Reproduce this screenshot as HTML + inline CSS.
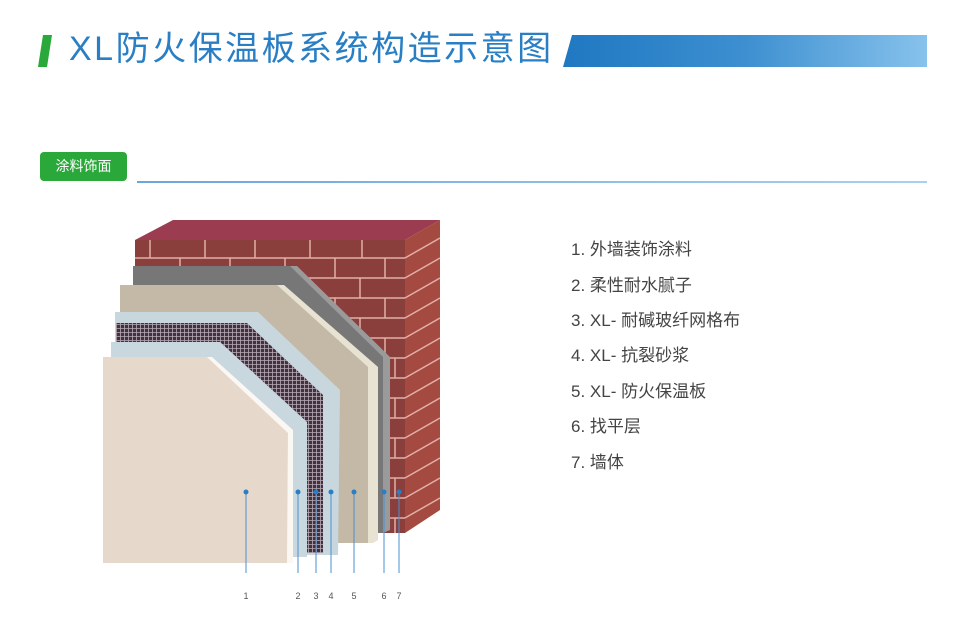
<!DOCTYPE html>
<html><head><meta charset="utf-8"><style>
body{margin:0;width:974px;height:618px;background:#fff;overflow:hidden;position:relative;font-family:"Liberation Sans","Noto Sans CJK SC",sans-serif}
.t{position:absolute;left:69px;top:29px;font-size:34px;color:#2a7fc4;letter-spacing:2.5px;line-height:40px;white-space:nowrap}
.tag{position:absolute;left:40px;top:152px;width:87px;height:29px;background:#2aa83a;border-radius:4px;color:#fff;font-size:14px;line-height:29px;text-align:center}
.ln{position:absolute;left:137px;top:181px;width:790px;height:2px;background:linear-gradient(90deg,#6aa6dc,#a9d0f0)}
.li{position:absolute;left:571px;font-size:17px;color:#444;white-space:nowrap}
</style></head><body>
<svg width="974" height="618" style="position:absolute;left:0;top:0">
<defs>
<linearGradient id="g" x1="0" x2="1"><stop offset="0" stop-color="#1f78c1"/><stop offset="0.5" stop-color="#3d8fd0"/><stop offset="1" stop-color="#87c2ec"/></linearGradient>
<pattern id="m" width="4" height="4" patternUnits="userSpaceOnUse"><rect width="4" height="4" fill="#3f3340"/><path d="M0 0.5H4M0.5 0V4" stroke="#b9aab6" stroke-width="0.8"/></pattern>
</defs>
<polygon points="43,35 52,35 47,67 38,67" fill="#2aa83a"/>
<polygon points="572,35 927,35 927,67 563,67" fill="url(#g)"/>
<polygon points="135,240 173,220 440,220 405,240" fill="#9c3c50"/>
<polygon points="405,240 440,220 440,510 405,533" fill="#a54a40"/>
<rect x="135" y="240" width="270" height="293" fill="#8a3f3c"/>
<g stroke="#e0b0a8" stroke-width="1.5" fill="none">
<path d="M135 258H405M135 278H405M135 298H405M135 318H405M135 338H405M135 358H405M135 378H405M135 398H405M135 418H405M135 438H405M135 458H405M135 478H405M135 498H405M135 518H405"/>
<path d="M405 258L440 238M405 278L440 258M405 298L440 278M405 318L440 298M405 338L440 318M405 358L440 338M405 378L440 358M405 398L440 378M405 418L440 398M405 438L440 418M405 458L440 438M405 478L440 458M405 498L440 478M405 518L440 498"/>
<path d="M150 240V258M205 240V258M255 240V258M310 240V258M362 240V258M180 258V278M230 258V278M285 258V278M335 258V278M385 258V278M310 278V298M360 278V298M335 298V318M385 298V318M360 318V338M385 338V358M395 358V378M395 398V418M395 438V458M395 478V498M395 518V533"/>
</g>
<polygon points="133,266 297,266 390,357 390,530 383,533 133,533" fill="#9a9a9a"/>
<polygon points="133,266 290,266 383,357 383,533 133,533" fill="#777"/>
<polygon points="120,285 284,285 378,367 378,540 373,543 120,543" fill="#e8e2d2"/>
<polygon points="120,285 277,285 368,367 368,543 120,543" fill="#c4b8a6"/>
<polygon points="115,312 258,312 340,390 338,555 115,555" fill="#c8d6de"/>
<polygon points="116,323 247,323 323,395 323,553 116,553" fill="url(#m)"/>
<polygon points="111,342 220,342 307,422 307,557 111,557" fill="#c9d7df"/>
<polygon points="103,357 212,357 293,430 293,563 103,563" fill="#fbf8f4"/>
<polygon points="103,357 207,357 288,433 287,563 103,563" fill="#e6d9cc"/>
<g stroke="#4a90d0" stroke-width="1">
<path d="M246 492V573M298 492V573M316 492V573M331 492V573M354 492V573M384 492V573M399 492V573"/>
</g>
<g fill="#2a7fc4"><circle cx="246" cy="492" r="2.5"/><circle cx="298" cy="492" r="2.5"/><circle cx="316" cy="492" r="2.5"/><circle cx="331" cy="492" r="2.5"/><circle cx="354" cy="492" r="2.5"/><circle cx="384" cy="492" r="2.5"/><circle cx="399" cy="492" r="2.5"/></g>
<g font-size="9" fill="#555" text-anchor="middle" font-family="Liberation Sans,sans-serif">
<text x="246" y="599">1</text><text x="298" y="599">2</text><text x="316" y="599">3</text><text x="331" y="599">4</text><text x="354" y="599">5</text><text x="384" y="599">6</text><text x="399" y="599">7</text></g>
</svg>
<div class="t">XL防火保温板系统构造示意图</div>
<div class="tag">涂料饰面</div>
<div class="ln"></div>
<div class="li" style="top:235px">1. 外墙装饰涂料</div>
<div class="li" style="top:271px">2. 柔性耐水腻子</div>
<div class="li" style="top:306px">3. XL- 耐碱玻纤网格布</div>
<div class="li" style="top:341px">4. XL- 抗裂砂浆</div>
<div class="li" style="top:377px">5. XL- 防火保温板</div>
<div class="li" style="top:412px">6. 找平层</div>
<div class="li" style="top:448px">7. 墙体</div>
</body></html>
